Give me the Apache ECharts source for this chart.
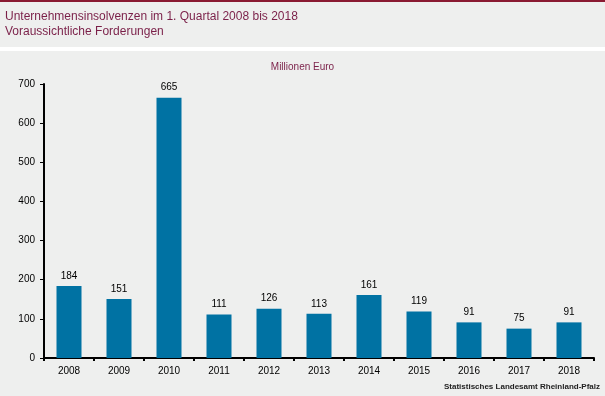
<!DOCTYPE html>
<html>
<head>
<meta charset="utf-8">
<script src="https://cdn.jsdelivr.net/npm/echarts@6/dist/echarts.min.js"></script>
<style>
  html, body { margin: 0; padding: 0; background: #eeefee; }
  #chartcontainer { width: 605px; height: 396px; }
</style>
</head>
<body>
<div id="chartcontainer"></div>
<script>
  const years = ['2008', '2009', '2010', '2011', '2012', '2013', '2014', '2015', '2016', '2017', '2018']
  const claims = [184, 151, 665, 111, 126, 113, 161, 119, 91, 75, 91]

  const maroon = '#7a1f48'
  const chart = echarts.init(document.getElementById('chartcontainer'))
  chart.setOption({
    backgroundColor: '#eeefee',
    textStyle: { fontFamily: 'Liberation Sans, Arial, sans-serif' },
    graphic: [
      { type: 'rect', shape: { x: 0, y: 0, width: 605, height: 2 }, style: { fill: '#8a1a32' } },
      { type: 'rect', shape: { x: 0, y: 47, width: 605, height: 4 }, style: { fill: '#ffffff' } },
      {
        type: 'text', left: 5, top: 11,
        style: { text: 'Unternehmensinsolvenzen im 1. Quartal 2008 bis 2018', fill: maroon, font: '12px Liberation Sans' }
      },
      {
        type: 'text', left: 5, top: 26,
        style: { text: 'Voraussichtliche Forderungen', fill: maroon, font: '12px Liberation Sans' }
      },
      {
        type: 'text', left: 'center', top: 62,
        style: { text: 'Millionen Euro', fill: maroon, font: '10px Liberation Sans' }
      },
      {
        type: 'text', right: 5, top: 383,
        style: { text: 'Statistisches Landesamt Rheinland-Pfalz', fill: '#222', font: 'bold 8px Liberation Sans' }
      }
    ],
    grid: { left: 44, right: 11, top: 84, bottom: 38 },
    xAxis: {
      type: 'category',
      data: years,
      axisLine: { lineStyle: { color: '#000', width: 2 } },
      axisTick: { show: true, length: 3, lineStyle: { color: '#000', width: 2 } },
      axisLabel: { color: '#000', fontSize: 10, margin: 8 }
    },
    yAxis: {
      type: 'value',
      min: 0,
      max: 700,
      interval: 100,
      splitLine: { show: false },
      axisLine: { show: true, lineStyle: { color: '#000', width: 2 } },
      axisTick: { show: true, length: 4, lineStyle: { color: '#000', width: 1 } },
      axisLabel: { color: '#000', fontSize: 10, margin: 9 }
    },
    series: [
      {
        type: 'bar',
        data: claims,
        barWidth: '50%',
        itemStyle: { color: '#0072a3' },
        label: { show: true, position: 'top', distance: 5, color: '#000', fontSize: 10 }
      }
    ]
  })
</script>
</body>
</html>
